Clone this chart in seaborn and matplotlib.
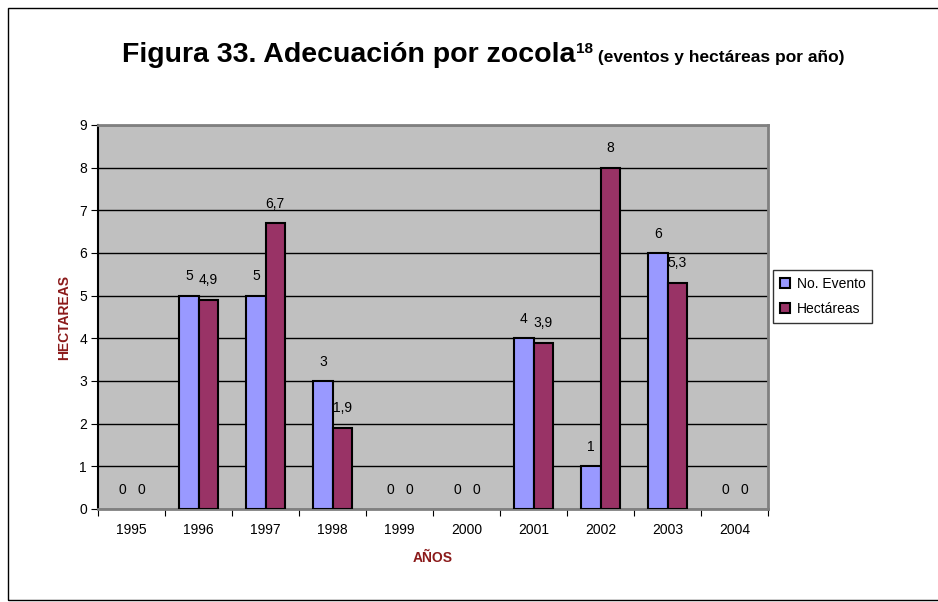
"""
Recreation of 'Figura 33. Adecuación por zocola' clustered bar chart.
"""

import matplotlib
matplotlib.use('Agg')
import matplotlib.pyplot as plt
from matplotlib.patches import Rectangle
from matplotlib.transforms import offset_copy
import seaborn as sns
import pandas as pd

years = ['1995', '1996', '1997', '1998', '1999', '2000', '2001', '2002', '2003', '2004']
eventos = [0, 5, 5, 3, 0, 0, 4, 1, 6, 0]
hectareas = [0, 4.9, 6.7, 1.9, 0, 0, 3.9, 8, 5.3, 0]
series_names = ['No. Evento', 'Hectáreas']
colors = ['#9999FF', '#993366']

df = pd.DataFrame({
    'year': years * 2,
    'value': eventos + hectareas,
    'serie': [series_names[0]] * len(years) + [series_names[1]] * len(years),
})

sns.set_style('white')
plt.rcParams['font.family'] = ['Liberation Sans', 'DejaVu Sans']
plt.rcParams['text.color'] = 'black'
plt.rcParams['xtick.color'] = 'black'
plt.rcParams['ytick.color'] = 'black'

fig = plt.figure(figsize=(9.38, 6.02), dpi=100)
ax = fig.add_axes([98 / 938, 1 - 509 / 602, 670 / 938, 384 / 602])
ax.set_facecolor('#C0C0C0')

sns.barplot(data=df, x='year', y='value', hue='serie', palette=colors,
            width=0.57, gap=0, edgecolor='black', linewidth=1.5,
            saturation=1, ax=ax, legend=False, zorder=3)

# Excel does not draw an outline for zero-height bars
for p in ax.patches:
    if p.get_height() == 0:
        p.set_linewidth(0)

def fmt(v):
    return f'{v:g}'.replace('.', ',')

for cont, vals in zip(ax.containers, [eventos, hectareas]):
    ax.bar_label(cont, labels=[fmt(v) for v in vals], padding=9, fontsize=10, color='black')

ax.set_ylim(0, 9)
ax.set_yticks(range(10))
ax.yaxis.grid(True, color='black', linewidth=1, zorder=0)
ax.set_axisbelow(True)
ax.set_xlim(-0.5, len(years) - 0.5)
ax.set_xticks([i - 0.5 for i in range(len(years) + 1)], minor=False)
ax.set_xticklabels([])
ax.set_xticks(range(len(years)), minor=True)
ax.set_xticklabels(years, minor=True)
ax.tick_params(axis='x', which='major', length=5, direction='out', color='black', bottom=True)
ax.tick_params(axis='x', which='minor', length=0, labelsize=10, pad=10, labelcolor='black')
ax.tick_params(axis='y', length=5, direction='out', labelsize=10, left=True, pad=3,
               color='black', labelcolor='black')

for s in ['top', 'right', 'bottom']:
    ax.spines[s].set_color('#808080')
    ax.spines[s].set_linewidth(2)
ax.spines['left'].set_color('black')
ax.spines['left'].set_linewidth(1.5)

ax.set_xlabel('AÑOS', color='#8B1A1A', fontweight='bold', fontsize=10, labelpad=10)
ax.set_ylabel('HECTAREAS', color='#8B1A1A', fontweight='bold', fontsize=10, labelpad=6)

handles = [Rectangle((0, 0), 1, 1, facecolor=c, edgecolor='black', linewidth=1.5) for c in colors]
leg = fig.legend(handles, series_names, loc='upper left', bbox_to_anchor=(773 / 938, 1 - 270 / 602),
                 frameon=True, fancybox=False, edgecolor='black', fontsize=10,
                 handlelength=0.7, handleheight=0.7, handletextpad=0.5, borderpad=0.5,
                 labelspacing=0.8, borderaxespad=0, labelcolor='black')
leg.get_frame().set_linewidth(1)

# outer chart border
fig.patches.append(Rectangle((8 / 938, 2 / 602), 940 / 938, 592 / 602, transform=fig.transFigure,
                             fill=False, edgecolor='black', linewidth=1))

# title in three pieces (main text, superscript, smaller subtitle)
title_font = ['Liberation Sans Narrow', 'Liberation Sans', 'DejaVu Sans']
fig.canvas.draw()
renderer = fig.canvas.get_renderer()
x0, y0 = 122 / 938, 1 - 62 / 602
t1 = fig.text(x0, y0, 'Figura 33. Adecuación por zocola', fontsize=20.5, fontweight='bold',
              family=title_font, va='baseline', color='black')
w1 = t1.get_window_extent(renderer).width
t2 = fig.text(x0, y0, '18', fontsize=11, fontweight='bold', family=title_font, va='baseline',
              color='black',
              transform=offset_copy(fig.transFigure, fig=fig, x=w1 + 1, y=9, units='dots'))
w2 = t2.get_window_extent(renderer).width
t3 = fig.text(x0, y0, ' (eventos y hectáreas por año)', fontsize=12.5, fontweight='bold',
              family=title_font, va='baseline', color='black',
              transform=offset_copy(fig.transFigure, fig=fig, x=w1 + w2 + 1, y=0, units='dots'))

fig.savefig('out.png', dpi=100)
